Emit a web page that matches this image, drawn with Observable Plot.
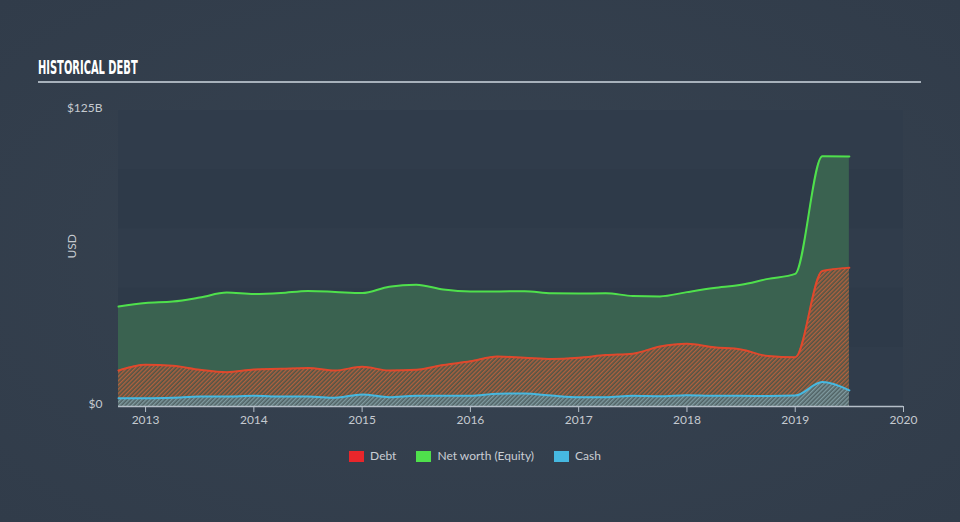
<!DOCTYPE html>
<html><head><meta charset="utf-8">
<script src="https://cdn.jsdelivr.net/npm/d3@7"></script>
<script src="https://cdn.jsdelivr.net/npm/@observablehq/plot@0.6"></script>
<style>
html,body{margin:0;padding:0;background:#333f4e;}
#wrap{position:relative;width:960px;height:522px;overflow:hidden;font-family:Lato,"Open Sans",sans-serif;
  background:radial-gradient(ellipse at 50% 50%, #374351 0%, #313c4a 100%);}
#title{position:absolute;left:38px;top:56px;font-family:"Liberation Sans Narrow","DejaVu Sans Condensed",sans-serif;font-weight:bold;font-size:19px;line-height:22px;color:#fff;transform:scaleX(0.58);transform-origin:left top;white-space:nowrap;}
#rule{position:absolute;left:38px;top:81px;width:883px;height:2px;background:#a7b1bb;}
#chart{position:absolute;left:0;top:95px;}
#legend{position:absolute;top:448px;left:0;width:950px;display:flex;justify-content:center;font-size:12px;line-height:16px;color:#c9ced4;}
#legend .item{display:flex;align-items:center;margin:0 10px;}
#legend .sw{width:15px;height:11px;margin-right:6px;}
</style></head>
<body>
<div id="wrap">
  <div id="title">HISTORICAL DEBT</div>
  <div id="rule"></div>
  <div id="chart"></div>
  <div id="legend"></div>
</div>
<script>
// Quarter-end dates as decimal years
const quarters = [2012.75, 2013.0, 2013.25, 2013.5, 2013.75, 2014.0, 2014.25, 2014.5, 2014.75,
  2015.0, 2015.25, 2015.5, 2015.75, 2016.0, 2016.25, 2016.5, 2016.75, 2017.0, 2017.25, 2017.5,
  2017.75, 2018.0, 2018.25, 2018.5, 2018.75, 2019.0, 2019.25, 2019.5];
// Values in $B
const equity = [42.2, 43.7, 44.3, 46.0, 48.1, 47.5, 47.9, 48.8, 48.4, 47.9, 50.6, 51.4, 49.4, 48.6,
  48.6, 48.7, 47.8, 47.7, 47.8, 46.7, 46.5, 48.3, 50.0, 51.4, 53.9, 56.0, 105.7, 105.6];
const debt = [15.2, 17.6, 17.2, 15.5, 14.5, 15.6, 15.9, 16.3, 15.2, 16.8, 15.2, 15.5, 17.5, 19.1,
  21.1, 20.6, 20.1, 20.6, 21.7, 22.3, 25.3, 26.5, 25.0, 24.1, 21.3, 20.8, 57.2, 58.6];
const cash = [3.5, 3.5, 3.7, 4.2, 4.2, 4.5, 4.2, 4.2, 3.7, 5.1, 3.9, 4.5, 4.5, 4.5, 5.4, 5.5, 4.6,
  3.9, 3.9, 4.5, 4.3, 4.8, 4.5, 4.5, 4.4, 4.6, 10.3, 6.8];

const xDomain = [2012.75, 2020];
const xTicks = [2013, 2014, 2015, 2016, 2017, 2018, 2019, 2020];
const yDomain = [0, 125];
const yTicks = [0, 125];
const yTickLabels = ["$0", "$125B"];
const bandEdges = [0, 25, 50, 75, 100, 125];
const seriesNames = ["Debt", "Net worth (Equity)", "Cash"];
const seriesColors = ["#e8262b", "#4fe04c", "#46b8e0"];

const rows = quarters.map((t, i) => ({t, equity: equity[i], debt: debt[i], cash: cash[i]}));
const bands = bandEdges.slice(0, -1).map((y1, i) => ({y1, y2: bandEdges[i + 1], i}));

const svg = Plot.plot({
  width: 960, height: 341,
  marginTop: 15, marginBottom: 30, marginLeft: 118, marginRight: 57,
  style: {background: "transparent", color: "#c5cad0", fontFamily: "Lato, 'Open Sans', sans-serif", fontSize: "12px"},
  x: {domain: xDomain},
  y: {domain: yDomain},
  marks: [
    Plot.rect(bands.filter(d => d.i % 2 === 0), {x1: () => xDomain[0], x2: () => xDomain[1], y1: "y1", y2: "y2", fill: "#303c4b"}),
    Plot.rect(bands.filter(d => d.i % 2 === 1), {x1: () => xDomain[0], x2: () => xDomain[1], y1: "y1", y2: "y2", fill: "#2e3a49"}),
    Plot.areaY(rows, {x: "t", y: "equity", fill: "#3a6250", curve: "monotone-x"}),
    Plot.areaY(rows, {x: "t", y: "debt", fill: "url(#debtHatch)", curve: "monotone-x"}),
    Plot.areaY(rows, {x: "t", y: "cash", fill: "url(#cashHatch)", curve: "monotone-x"}),
    Plot.lineY(rows, {x: "t", y: "equity", stroke: seriesColors[1], strokeWidth: 2, curve: "monotone-x"}),
    Plot.lineY(rows, {x: "t", y: "debt", stroke: "#e0482c", strokeWidth: 2, curve: "monotone-x"}),
    Plot.lineY(rows, {x: "t", y: "cash", stroke: seriesColors[2], strokeWidth: 2, curve: "monotone-x"}),
    Plot.ruleY([0], {stroke: "#b5bec8", strokeWidth: 1.5}),
    Plot.axisX({ticks: xTicks, tickFormat: d => String(d), tickSize: 6, tickPadding: 3, stroke: "#b5bec8", fill: "#c5cad0", label: null}),
    Plot.axisY({ticks: yTicks, tickFormat: d => yTickLabels[yTicks.indexOf(d)], tickSize: 0, tickPadding: 16, fill: "#c5cad0", dy: -2, label: null}),
    Plot.text(["USD"], {frameAnchor: "left", dx: -46, dy: 0, rotate: -90, fill: "#c5cad0", fontSize: 12})
  ]
});

const defs = d3.select(svg).insert("defs", ":first-child");
function hatch(id, bg, fg) {
  const p = defs.append("pattern").attr("id", id).attr("patternUnits", "userSpaceOnUse")
    .attr("width", 3).attr("height", 3).attr("patternTransform", "rotate(45)");
  p.append("rect").attr("width", 3).attr("height", 3).attr("fill", bg);
  p.append("rect").attr("width", 1.4).attr("height", 3).attr("fill", fg);
}
hatch("debtHatch", "#505546", "#b2603e");
hatch("cashHatch", "#506264", "#7f9a9f");

document.getElementById("chart").appendChild(svg);

const legend = d3.select("#legend");
seriesNames.forEach((name, i) => {
  const it = legend.append("div").attr("class", "item");
  it.append("div").attr("class", "sw").style("background", seriesColors[i]);
  it.append("span").text(name);
});
</script>
</body></html>
